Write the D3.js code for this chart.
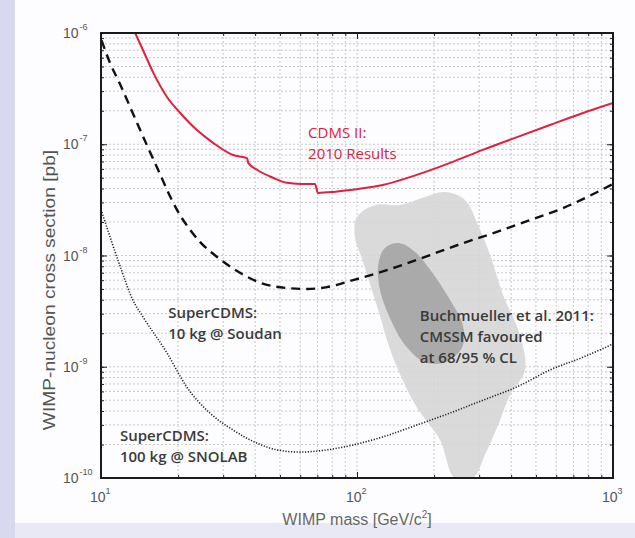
<!DOCTYPE html>
<html>
<head>
<meta charset="utf-8">
<script src="https://cdn.jsdelivr.net/npm/d3@7"></script>
<style>
  body { margin: 0; background: #d8d8ee; }
  svg { display: block; }
</style>
</head>
<body>
<svg width="635" height="538"></svg>
<script>
// curves: [WIMP mass GeV, cross section pb]
var cdmsII = [[13.6,1e-6],[14.6,7.0e-7],[16.0,4.4e-7],[18.1,2.66e-7],[20.4,1.91e-7],[23.7,1.34e-7],
  [27.4,1.03e-7],[32.8,8.0e-8],[37.2,7.5e-8],[37.6,6.8e-8],[40.7,5.9e-8],[47,5.0e-8],[53.3,4.5e-8],
  [60,4.4e-8],[68.5,4.4e-8],[70.4,3.65e-8],[80.6,3.72e-8],[94,3.88e-8],[126,4.3e-8],[171,5.3e-8],
  [231,6.8e-8],[310,8.9e-8],[422,1.16e-7],[567,1.49e-7],[764,1.91e-7],[1000,2.35e-7]];

var soudan = [[10.05,8.6e-7],[10.84,5.4e-7],[11.86,3.48e-7],[13.3,1.91e-7],[15.1,9.85e-8],[17,5.4e-8],
  [18.9,3.16e-8],[20.35,2.31e-8],[22.3,1.7e-8],[24.4,1.32e-8],[28.4,9.7e-9],[34.9,7.0e-9],[41.8,5.7e-9],
  [53.3,5.1e-9],[63.8,5.0e-9],[76.3,5.2e-9],[96.5,6.0e-9],[143,7.9e-9],[193,1.01e-8],[259,1.29e-8],
  [352,1.63e-8],[474,2.08e-8],[638,2.67e-8],[1000,4.4e-8]];

var snolab = [[10,2.6e-8],[11.9,7.9e-9],[13.3,4.0e-9],[14.6,2.8e-9],[18.1,1.33e-9],[21.6,6.6e-10],
  [26.6,3.84e-10],[32.8,2.7e-10],[40.6,2.06e-10],[48.7,1.79e-10],[59.9,1.71e-10],[76.3,1.79e-10],
  [96.5,1.98e-10],[126,2.34e-10],[171,2.99e-10],[231,3.84e-10],[310,5.0e-10],[422,6.6e-10],
  [567,9.35e-10],[764,1.22e-9],[1000,1.6e-9]];

// CMSSM favoured regions (95% and 68% CL outlines)
var cmssm95 = [[100,2.22e-8],[117.6,2.84e-8],[147,2.84e-8],[184,3.36e-8],[221,3.72e-8],[264,3.16e-8],
  [297,1.88e-8],[331,1.01e-8],[372,4.42e-9],[433,1.93e-9],[453,9.35e-10],[396,5.57e-10],[356,2.99e-10],
  [316,1.61e-10],[284,1e-10],[241,1e-10],[211,2.2e-10],[169,4.53e-10],[137,1.28e-9],[121,3.24e-9],
  [105,9.1e-9],[98,1.5e-8]];
var cmssm68 = [[128.6,1.17e-8],[147,1.29e-8],[169,1.07e-8],[196,7.1e-9],[231,3.98e-9],[259,2.37e-9],
  [257,1.48e-9],[221,1.10e-9],[184,1.10e-9],[154,1.57e-9],[134.5,2.74e-9],[123,4.9e-9],[121,8.2e-9]];

var xMajor = [10, 100, 1000];
var yMajor = [1e-10, 1e-9, 1e-8, 1e-7, 1e-6];
var xLabels = ['1', '2', '3'];
var yLabels = ['-10', '-9', '-8', '-7', '-6'];

var annotations = [
  {lines: ['CDMS II:', '2010 Results'], m: 64.4, s: 1.14e-7, color: '#e0203c', weight: 400},
  {lines: ['SuperCDMS:', '10 kg @ Soudan'], m: 18.3, s: 2.74e-9, color: '#3a3a3a', weight: 600},
  {lines: ['SuperCDMS:', '100 kg @ SNOLAB'], m: 11.86, s: 2.15e-10, color: '#3a3a3a', weight: 600},
  {lines: ['Buchmueller et al. 2011:', 'CMSSM favoured', 'at 68/95 % CL'], m: 176, s: 2.58e-9, color: '#3a3a3a', weight: 600}
];

var svg = d3.select('svg');
var svgWidth = +svg.attr('width');
var svgHeight = +svg.attr('height');

var padding = {t: 33, r: 22, b: 60, l: 101};
var chartWidth = svgWidth - padding.l - padding.r;
var chartHeight = svgHeight - padding.t - padding.b;

// white panel over lavender page
svg.append('rect').attr('x', 15).attr('y', 0).attr('width', svgWidth - 15).attr('height', 523)
  .attr('fill', '#fdfdff');
svg.append('rect').attr('x', 15).attr('y', 523).attr('width', svgWidth - 15).attr('height', 15)
  .attr('fill', '#e9e9f5');

var x = d3.scaleLog().domain([10, 1000]).range([0, chartWidth]);
var y = d3.scaleLog().domain([1e-10, 1e-6]).range([chartHeight, 0]);

var chartG = svg.append('g')
  .attr('transform', 'translate(' + [padding.l, padding.t] + ')');

chartG.append('clipPath').attr('id', 'plotclip')
  .append('rect').attr('width', chartWidth).attr('height', chartHeight);

// grid at every log tick
var xTicks = x.ticks();
var yTicks = y.ticks();
chartG.append('g').selectAll('line').data(xTicks).enter().append('line')
  .attr('x1', function(d) {return x(d);}).attr('x2', function(d) {return x(d);})
  .attr('y1', 0).attr('y2', chartHeight)
  .attr('stroke', '#c8c8c8').attr('stroke-width', 1).attr('stroke-dasharray', '2,2');
chartG.append('g').selectAll('line').data(yTicks).enter().append('line')
  .attr('y1', function(d) {return y(d);}).attr('y2', function(d) {return y(d);})
  .attr('x1', 0).attr('x2', chartWidth)
  .attr('stroke', '#c8c8c8').attr('stroke-width', 1).attr('stroke-dasharray', '2,2');

var plotG = chartG.append('g').attr('clip-path', 'url(#plotclip)');

var area = d3.line()
  .x(function(d) {return x(d[0]);})
  .y(function(d) {return y(d[1]);})
  .curve(d3.curveCatmullRomClosed.alpha(0.5));

plotG.append('path').attr('d', area(cmssm95)).attr('fill', '#d6d6d6').attr('opacity', 0.9);
plotG.append('path').attr('d', area(cmssm68)).attr('fill', '#a4a4a4').attr('opacity', 0.9);

var line = d3.line()
  .x(function(d) {return x(d[0]);})
  .y(function(d) {return y(d[1]);})
  .curve(d3.curveMonotoneX);

plotG.append('path').attr('d', line(snolab)).attr('fill', 'none')
  .attr('stroke', '#222').attr('stroke-width', 1.6).attr('stroke-dasharray', '1.2,1.6');
plotG.append('path').attr('d', line(soudan)).attr('fill', 'none')
  .attr('stroke', '#111').attr('stroke-width', 2.4).attr('stroke-dasharray', '9,6');
plotG.append('path').attr('d', line(cdmsII)).attr('fill', 'none')
  .attr('stroke', '#e0203c').attr('stroke-width', 2);

// ticks inward on all four sides, minor then major
function drawAxis(axisFn, scale, ticks, size, transform) {
  var g = chartG.append('g').attr('transform', transform)
    .call(axisFn(scale).tickValues(ticks).tickSize(size).tickFormat(''));
  g.select('.domain').remove();
  g.selectAll('line').attr('stroke', '#222');
}
drawAxis(d3.axisBottom, x, xTicks, -3, 'translate(0,' + chartHeight + ')');
drawAxis(d3.axisBottom, x, xTicks, 3, 'translate(0,0)');
drawAxis(d3.axisLeft, y, yTicks, -3, 'translate(0,0)');
drawAxis(d3.axisLeft, y, yTicks, 3, 'translate(' + chartWidth + ',0)');
drawAxis(d3.axisBottom, x, xMajor, -6, 'translate(0,' + chartHeight + ')');
drawAxis(d3.axisBottom, x, xMajor, 6, 'translate(0,0)');
drawAxis(d3.axisLeft, y, yMajor, -6, 'translate(0,0)');
drawAxis(d3.axisLeft, y, yMajor, 6, 'translate(' + chartWidth + ',0)');

chartG.append('rect').attr('width', chartWidth).attr('height', chartHeight)
  .attr('fill', 'none').attr('stroke', '#1a1a1a').attr('stroke-width', 2);

// tick labels with superscripts
var labelFont = '"Liberation Sans", Arial, sans-serif';
chartG.selectAll('.xlab').data(xMajor).enter().append('text')
  .attr('class', 'xlab')
  .attr('x', function(d) {return x(d) - 11;})
  .attr('y', chartHeight + 24)
  .style('font-family', labelFont).style('font-size', '14px').style('fill', '#555')
  .each(function(d, i) {
    var t = d3.select(this);
    t.append('tspan').text('10');
    t.append('tspan').attr('dy', -8).style('font-size', '9px').text(xLabels[i]);
  });

chartG.selectAll('.ylab').data(yMajor).enter().append('text')
  .attr('class', 'ylab')
  .attr('x', -38)
  .attr('y', function(d) {return y(d) + 5;})
  .style('font-family', labelFont).style('font-size', '14px').style('fill', '#555')
  .each(function(d, i) {
    var t = d3.select(this);
    t.append('tspan').text('10');
    t.append('tspan').attr('dy', -8).attr('dx', 1).style('font-size', '9px').text(yLabels[i]);
  });

// axis titles
svg.append('text')
  .attr('x', padding.l + chartWidth / 2)
  .attr('y', 525)
  .attr('text-anchor', 'middle')
  .style('font-family', labelFont).style('font-size', '16px').style('fill', '#666')
  .each(function() {
    var t = d3.select(this);
    t.append('tspan').text('WIMP mass [GeV/c');
    t.append('tspan').attr('dy', -7).style('font-size', '10px').text('2');
    t.append('tspan').attr('dy', 7).text(']');
  });

// the source picture is stretched vertically, so the rotated title is drawn longer
svg.append('text')
  .attr('transform', 'translate(55,290) rotate(-90) scale(1.2,1)')
  .attr('text-anchor', 'middle')
  .style('font-family', labelFont).style('font-size', '16px').style('fill', '#555')
  .text('WIMP-nucleon cross section [pb]');

// annotations placed in data coordinates
annotations.forEach(function(a) {
  var t = chartG.append('text')
    .attr('x', x(a.m)).attr('y', y(a.s))
    .style('font-family', '"Open Sans", sans-serif').style('font-size', '15px')
    .style('font-weight', a.weight).style('fill', a.color);
  a.lines.forEach(function(s, i) {
    t.append('tspan').attr('x', x(a.m)).attr('dy', i === 0 ? 0 : 21).text(s);
  });
});
</script>
</body>
</html>
